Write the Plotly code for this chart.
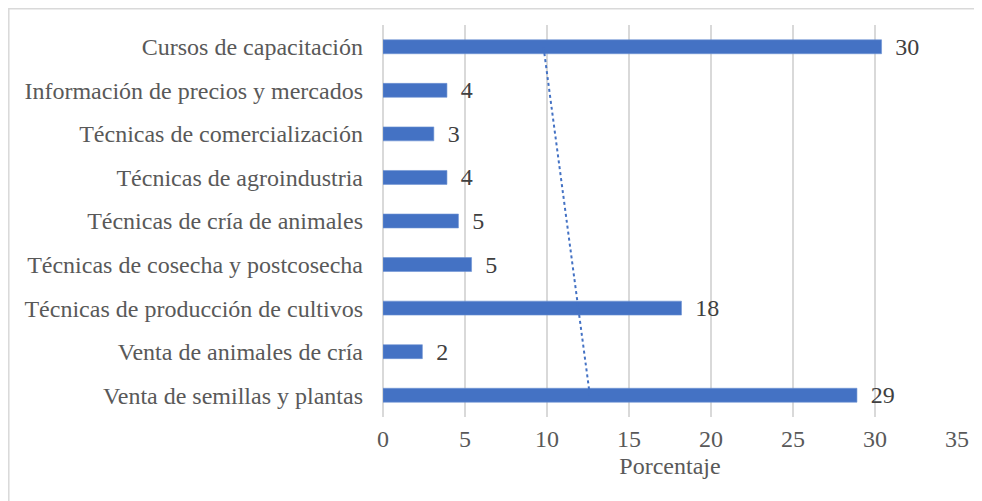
import numpy as np
import plotly.graph_objects as go

categories = [
    "Venta de semillas y plantas",
    "Venta de animales de cría",
    "Técnicas de producción de cultivos",
    "Técnicas de cosecha y postcosecha",
    "Técnicas de cría de animales",
    "Técnicas de agroindustria",
    "Técnicas de comercialización",
    "Información de precios y mercados",
    "Cursos de capacitación",
]
values = [28.9, 2.4, 18.2, 5.4, 4.6, 3.9, 3.1, 3.9, 30.4]
x_ticks = [0, 5, 10, 15, 20, 25, 30, 35]

BLUE = "#4472C4"
FONT = "Liberation Serif, Times New Roman, serif"
FS = 24

# linear trendline over category index (as Excel does)
idx = np.arange(1, len(values) + 1)
slope, intercept = np.polyfit(idx, values, 1)
trend = slope * idx + intercept

fig = go.Figure()
fig.add_trace(go.Scatter(
    x=trend, y=categories, mode="lines",
    line=dict(color=BLUE, width=2, dash="dot"),
    hoverinfo="skip", showlegend=False,
))
fig.add_trace(go.Bar(
    x=values, y=categories, orientation="h",
    marker=dict(color=BLUE, line=dict(color="#6F93D3", width=0.6)),
    width=0.32,
    text=values, texttemplate=" \u2009%{x:.0f}", textposition="outside",
    constraintext="none",
    textfont=dict(family=FONT, size=FS, color="#404040"),
    cliponaxis=False, showlegend=False,
))

L, T, R, B = 375, 17, 33, 92
W, H = 982, 501
pw, ph = W - L - R, H - T - B

fig.update_layout(
    width=W, height=H,
    margin=dict(l=L, r=R, t=T, b=B),
    paper_bgcolor="white", plot_bgcolor="white",
    font=dict(family=FONT, size=FS, color="#595959"),
    showlegend=False,
    xaxis=dict(
        range=[0, 35], tickvals=x_ticks, ticktext=[str(v) for v in x_ticks],
        showgrid=True, gridcolor="#D9D9D9", gridwidth=1.5,
        zeroline=True, zerolinecolor="#D9D9D9", zerolinewidth=1.5,
        showline=False, ticks="", ticklabelstandoff=5,
        tickfont=dict(family=FONT, size=FS, color="#595959"),
        title=dict(text="Porcentaje", font=dict(family=FONT, size=FS, color="#595959"), standoff=6),
    ),
    yaxis=dict(
        categoryorder="array", categoryarray=categories,
        range=[-0.5, len(categories) - 0.5],
        showgrid=False, showline=False, ticks="", ticklabelstandoff=19,
        tickfont=dict(family=FONT, size=FS, color="#595959"),
    ),
    shapes=[dict(
        type="rect", xref="paper", yref="paper",
        x0=(0.8 - L) / pw, x1=(W + 20 - L) / pw,
        y0=-(H - 4 - T - ph) / ph,
        y1=(ph + T - 0.8) / ph,
        line=dict(color="#D9D9D9", width=1.5), fillcolor="rgba(0,0,0,0)",
        layer="below",
    )],
)

fig.write_html("out.html")
